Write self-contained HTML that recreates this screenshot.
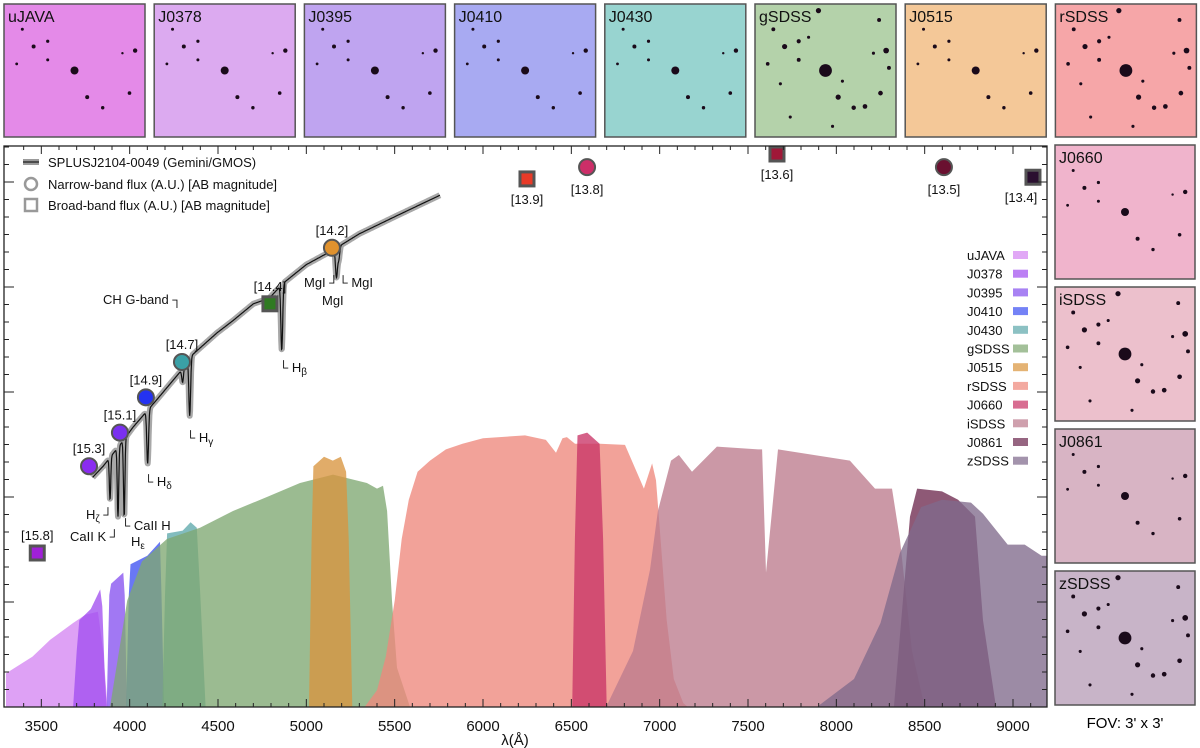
<!DOCTYPE html>
<html><head><meta charset="utf-8">
<style>
html,body{margin:0;padding:0;background:#fff;}
svg{display:block;font-family:"Liberation Sans",Arial,sans-serif;}
</style></head>
<body>
<svg id="fig" width="1200" height="748" viewBox="0 0 1200 748" xmlns="http://www.w3.org/2000/svg">
<g id="thumbs"></g>
<g id="chart"></g>
<text x="1125" y="728" font-size="15" text-anchor="middle">FOV: 3' x 3'</text>
</svg>
<script>
// ---------- DATA ----------
const filterNames = ["uJAVA","J0378","J0395","J0410","J0430","gSDSS","J0515","rSDSS","J0660","iSDSS","J0861","zSDSS"];
const filterColors = ["#d586f2","#a24ff0","#8652ef","#3f52f2","#5fa9ac","#7fa872","#d9953f","#ee887c","#c93466","#bd7b8d","#6e2a50","#806a8c"];
const curve_uJAVA = [[3300,0.06],[3450,0.09],[3550,0.12],[3680,0.15],[3750,0.165],[3820,0.17],[3850,0.1],[3875,0]];
const curve_J0378 = [[3680,0],[3700,0.1],[3715,0.155],[3780,0.175],[3833,0.21],[3845,0.18],[3860,0.05],[3870,0]];
const curve_J0395 = [[3870,0],[3885,0.2],[3895,0.22],[3964,0.24],[3972,0.2],[3985,0]];
const curve_J0410 = [[3980,0],[3995,0.2],[4005,0.255],[4100,0.27],[4172,0.295],[4180,0.2],[4195,0]];
const curve_J0430 = [[4185,0],[4200,0.2],[4212,0.31],[4300,0.315],[4345,0.33],[4380,0.32],[4400,0.2],[4430,0]];
const curve_gSDSS = [[3889,0],[3986,0.19],[4070,0.26],[4211,0.30],[4398,0.32],[4585,0.35],[4777,0.375],[4964,0.40],[5151,0.415],[5343,0.40],[5400,0.39],[5434,0.395],[5457,0.35],[5485,0.19],[5513,0.07],[5587,0]];
const curve_J0515 = [[5015,0],[5030,0.3],[5040,0.43],[5100,0.447],[5150,0.44],[5195,0.447],[5225,0.42],[5240,0.3],[5260,0]];
const curve_rSDSS = [[5330,0],[5400,0.03],[5450,0.09],[5500,0.19],[5540,0.3],[5580,0.37],[5630,0.42],[5700,0.44],[5790,0.46],[5884,0.47],[6000,0.48],[6238,0.485],[6356,0.477],[6413,0.454],[6450,0.48],[6475,0.482],[6521,0.47],[6662,0.47],[6804,0.468],[6849,0.435],[6911,0.39],[6957,0.435],[6979,0.405],[7000,0.32],[7040,0.155],[7080,0.05],[7134,0.007],[7160,0]];
const curve_J0660 = [[6505,0],[6520,0.3],[6535,0.485],[6590,0.49],[6660,0.47],[6680,0.3],[6700,0]];
const curve_iSDSS = [[6697,0],[6849,0.1],[6945,0.245],[6990,0.35],[7064,0.44],[7109,0.45],[7183,0.42],[7324,0.465],[7557,0.46],[7580,0.46],[7602,0.24],[7670,0.46],[8077,0.44],[8219,0.39],[8315,0.39],[8360,0.30],[8428,0.1],[8500,0]];
const curve_J0861 = [[8326,0],[8417,0.34],[8457,0.39],[8598,0.385],[8689,0.37],[8785,0.34],[8830,0.155],[8904,0]];
const curve_zSDSS = [[7890,0],[8100,0.05],[8250,0.15],[8360,0.275],[8480,0.357],[8598,0.37],[8762,0.365],[8830,0.345],[8970,0.29],[9066,0.29],[9162,0.27],[9195,0.27],[9195,0]];
const filterCurves = [curve_uJAVA,curve_J0378,curve_J0395,curve_J0410,curve_J0430,curve_gSDSS,curve_J0515,curve_rSDSS,curve_J0660,curve_iSDSS,curve_J0861,curve_zSDSS];

const specContinuum = [[3790,0.41],[3850,0.43],[3950,0.47],[4020,0.50],[4157,0.55],[4290,0.60],[4341,0.625],[4494,0.668],[4585,0.69],[4700,0.72],[4790,0.73],[4870,0.757],[5000,0.79],[5151,0.816],[5300,0.845],[5530,0.88],[5757,0.914]];
const lineWaves = [3889,3934,3969,4102,4300,4340,4861,5168,5173,5184];
const lineDepthFlux = [0.37,0.34,0.34,0.435,0.58,0.52,0.637,0.79,0.79,0.80];

const photNames = ["uJAVA","J0378","J0395","J0410","J0430","gSDSS","J0515","rSDSS","J0660","iSDSS","J0861","zSDSS"];
const photWave = [3477,3770,3945,4092,4296,4794,5145,6249,6589,7664,8609,9113];
const photFlux = [0.275,0.43,0.49,0.553,0.616,0.72,0.82,0.943,0.964,0.9875,0.964,0.946];
const photMag = ["15.8","15.3","15.1","14.9","14.7","14.4","14.2","13.9","13.8","13.6","13.5","13.4"];
const photBroad = [true,false,false,false,false,true,false,true,false,true,false,true];
const photColors = ["#a020d8","#8a2cf0","#7a30f0","#2432f2","#3aa0a6","#2f7a22","#e0922e","#e83a28","#cc2e68","#a01838","#6a1030","#2a1030"];

const xTicks = [3500,4000,4500,5000,5500,6000,6500,7000,7500,8000,8500,9000];

// ---------- SCALES ----------
const NS="http://www.w3.org/2000/svg";
const X0=4, X1=1047, Y0=146, Y1=707;
function xs(l){return 483+(l-6000)*0.17667;}
function ys(f){return 707-f*560;}
function mk(tag,attrs,parent){const e=document.createElementNS(NS,tag);for(const k in attrs)e.setAttribute(k,attrs[k]);if(parent)parent.appendChild(e);return e;}

const chart=document.getElementById('chart');
const clip=mk('clipPath',{id:'plotclip'},chart);
mk('rect',{x:X0,y:Y0,width:X1-X0,height:Y1-Y0},clip);
const plot=mk('g',{'clip-path':'url(#plotclip)'},chart);



filterCurves.forEach((c,i)=>{
  let d='M'+xs(c[0][0]).toFixed(1)+','+ys(0);
  c.forEach(p=>{d+='L'+xs(p[0]).toFixed(1)+','+ys(p[1]).toFixed(1);});
  d+='L'+xs(c[c.length-1][0]).toFixed(1)+','+ys(0)+'Z';
  const p=mk('path',{d:d,fill:filterColors[i],'fill-opacity':0.78,stroke:'none'},plot);
  
  
});

function contAt(l){
  for(let i=0;i<specContinuum.length-1;i++){const a=specContinuum[i],b=specContinuum[i+1];
    if(l>=a[0]&&l<=b[0])return a[1]+(b[1]-a[1])*(l-a[0])/(b[0]-a[0]);}
  return specContinuum[specContinuum.length-1][1];
}
function specAt(l){
  let f=contAt(l);
  lineWaves.forEach((w,i)=>{const depth=contAt(w)-lineDepthFlux[i];const s=(w<4000?4:5);f-=depth*Math.exp(-((l-w)*(l-w))/(2*s*s));});
  return f;
}
let sd='';
for(let l=specContinuum[0][0];l<=specContinuum[specContinuum.length-1][0];l+=2){
  sd+=(sd?'L':'M')+xs(l).toFixed(1)+','+ys(specAt(l)).toFixed(1);
}
const sband=mk('path',{d:sd,fill:'none',stroke:'#a8a8a8','stroke-width':6,'stroke-linejoin':'round'},plot);


const sline=mk('path',{d:sd,fill:'none',stroke:'#111','stroke-width':1.2},plot);



photWave.forEach((w,i)=>{
  const cx=xs(w), cy=ys(photFlux[i]);
  let m;
  if(photBroad[i]){m=mk('rect',{x:cx-7,y:cy-7,width:14,height:14,fill:photColors[i],stroke:'#555','stroke-width':3},chart);}
  else{m=mk('circle',{cx:cx,cy:cy,r:8,fill:photColors[i],stroke:'#555','stroke-width':2},chart);}
  
  
  const below = w>6000;
  const t=mk('text',{x:cx+(i==11?-12:0),y:below?cy+(photBroad[i]?25:27):cy-13,'font-size':13,'text-anchor':'middle',fill:'#111'},chart);
  t.textContent='['+photMag[i]+']';
  
  
});

const frame=mk('rect',{x:X0,y:Y0,width:X1-X0,height:Y1-Y0,fill:'none',stroke:'#222','stroke-width':1.3},chart);


const tk=mk('g',{stroke:'#222','stroke-width':1},chart);


for(let l=3400;l<=9100;l+=100){const x=xs(l);const L=(l%500==0)?8:4;
  mk('line',{x1:x,y1:Y1,x2:x,y2:Y1-L},tk);mk('line',{x1:x,y1:Y0,x2:x,y2:Y0+L},tk);}
for(let k=0;k*17.5<=Y1-Y0;k++){const y=Y1-k*17.5;const L=(k%6==0)?10:5;
  mk('line',{x1:X0,y1:y,x2:X0+L,y2:y},tk);mk('line',{x1:X1,y1:y,x2:X1-L,y2:y},tk);}
xTicks.forEach(v=>{const t=mk('text',{x:xs(v),y:731,'font-size':15,'text-anchor':'middle',fill:'#111'},chart);t.textContent=v;
  
  });
const xt=mk('text',{x:515,y:745,'font-size':15,'text-anchor':'middle',fill:'#111'},chart);xt.textContent='λ(Å)';



filterNames.forEach((n,i)=>{
  const y=255+i*18.7;
  const t=mk('text',{x:967,y:y+5,'font-size':13,fill:'#111'},chart);t.textContent=n;
  
  
  const r=mk('rect',{x:1013,y:y-4,width:15,height:8,fill:filterColors[i],'fill-opacity':0.72},chart);
  
  
});
</script>
<script>
(function(){
const chart=document.getElementById('chart');
const html=`
<g font-size="13" fill="#111">
<line x1="23" y1="162" x2="39" y2="162" stroke="#9a9a9a" stroke-width="6"/>
<line x1="23" y1="162" x2="39" y2="162" stroke="#333" stroke-width="1.5"/>
<text x="48" y="167">SPLUSJ2104-0049 (Gemini/GMOS)</text>
<circle cx="31" cy="184" r="6" fill="none" stroke="#999" stroke-width="2.5"/>
<text x="48" y="189">Narrow-band flux (A.U.) [AB magnitude]</text>
<rect x="25" y="199" width="12" height="12" fill="none" stroke="#999" stroke-width="2.5"/>
<text x="48" y="210">Broad-band flux (A.U.) [AB magnitude]</text>
</g>
<g font-size="13" fill="#111">
<text x="103" y="304">CH G-band ┐</text>
<text x="279" y="372">└ H<tspan font-size="10" dy="3">β</tspan></text>
<text x="304" y="287">MgI ┘└ MgI</text>
<text x="322" y="305">MgI</text>
<text x="186" y="442">└ H<tspan font-size="10" dy="3">γ</tspan></text>
<text x="144" y="486">└ H<tspan font-size="10" dy="3">δ</tspan></text>
<text x="86" y="519">H<tspan font-size="10" dy="3">ζ</tspan><tspan dy="-3"> ┘</tspan></text>
<text x="70" y="541">CaII K ┘</text>
<text x="121" y="530">└ CaII H</text>
<text x="131" y="546">H<tspan font-size="10" dy="3">ε</tspan></text>
</g>`;
chart.insertAdjacentHTML('beforeend',html.replace(/\n/g,''));
})();
</script>
<script>
const thumbNames=["uJAVA","J0378","J0395","J0410","J0430","gSDSS","J0515","rSDSS","J0660","iSDSS","J0861","zSDSS"];
const thumbBg=["#e48ae8","#dcaaf0","#bfa4f0","#a8aaf2","#98d4d0","#b4d2aa","#f4c898","#f6a6a8","#f0b4cc","#ecc0cc","#d8b4c4","#c8b4c8"];
const starFx=[0.50,0.13,0.21,0.31,0.31,0.09,0.93,0.59,0.89,0.70,0.84,0.38,0.78,0.62,0.88,0.25,0.55,0.95,0.18,0.45];
const starFy=[0.50,0.19,0.32,0.28,0.42,0.45,0.35,0.70,0.67,0.78,0.37,0.25,0.77,0.58,0.12,0.85,0.92,0.48,0.60,0.05];
const starR=[4,1.5,2,1.6,1.5,1.4,2.2,2,1.8,1.7,1.2,1.2,1.8,1.2,1.5,1.2,1.2,1.5,1.2,2];
(function(){
const NS="http://www.w3.org/2000/svg";
const g=document.getElementById('thumbs');
const boxes=[];
for(let i=0;i<8;i++)boxes.push([4+i*150.2,4,141,133]);
boxes.push([1055,145,140,134],[1055,287,140,134],[1055,429,140,134],[1055,571,140,134]);
const broad=[false,false,false,false,false,true,false,true,false,true,false,true];
thumbNames.forEach((n,i)=>{
  const [x,y,w,h]=boxes[i];
  const grp=document.createElementNS(NS,'g');
  
  
  const r=document.createElementNS(NS,'rect');
  r.setAttribute('x',x);r.setAttribute('y',y);r.setAttribute('width',w);r.setAttribute('height',h);
  r.setAttribute('fill',thumbBg[i]);r.setAttribute('stroke','#555');r.setAttribute('stroke-width','1.5');
  grp.appendChild(r);
  const nStars=broad[i]?starFx.length:11;
  for(let k=0;k<nStars;k++){
    const c=document.createElementNS(NS,'circle');
    c.setAttribute('cx',x+starFx[k]*w);c.setAttribute('cy',y+starFy[k]*h);
    c.setAttribute('r',starR[k]*(broad[i]?(k==0?1.6:1.3):1));
    c.setAttribute('fill','#1a0a1a');
    
    
    grp.appendChild(c);
  }
  const t=document.createElementNS(NS,'text');
  t.setAttribute('x',x+4);t.setAttribute('y',y+18);t.setAttribute('font-size','16');t.setAttribute('fill','#111');
  t.textContent=n;
  
  
  grp.appendChild(t);
  g.appendChild(grp);
});
})();
</script>
</body></html>
